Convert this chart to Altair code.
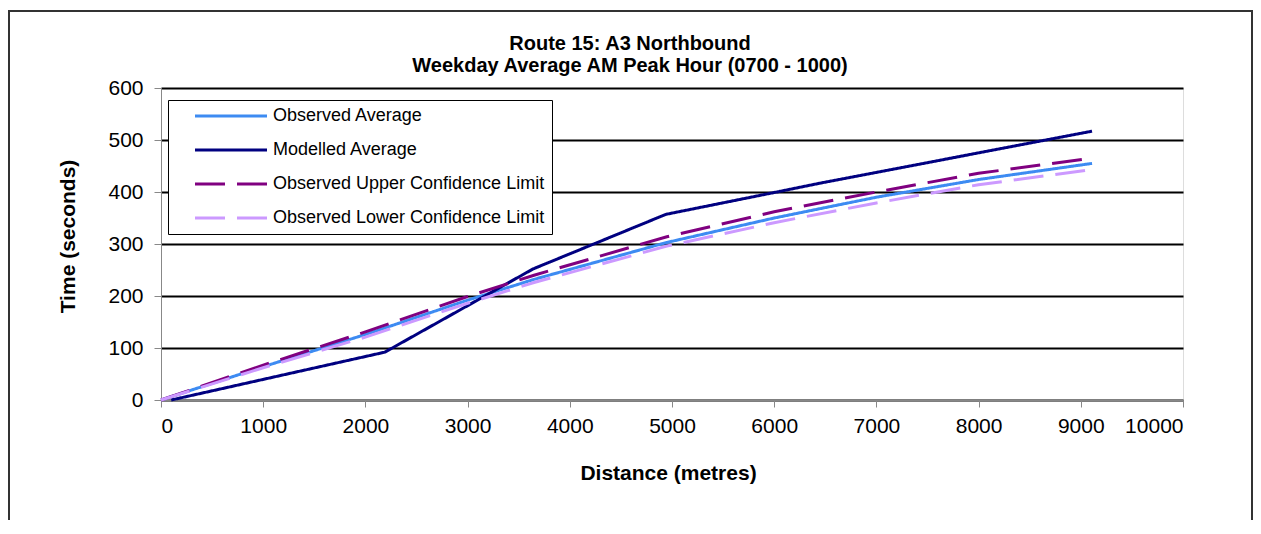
import altair as alt
import pandas as pd

# ---- data ----
obs_dist = [0, 1000, 2000, 3000, 3650, 4950, 6000, 7000, 8000, 9110]
obs_avg = [0, 64, 126, 192, 232, 303, 350, 390, 424, 455]
obs_upper = [0, 67, 131, 199, 240, 314, 362, 400, 436, 465]
obs_lower = [0, 62, 121, 186, 226, 296, 341, 379, 414, 443]

mod_dist = [100, 2190, 3640, 4940, 6000, 6450, 9110]
mod_avg = [0, 92, 252, 357, 399, 417, 517]

series_names = [
    "Observed Average",
    "Modelled Average",
    "Observed Upper Confidence Limit",
    "Observed Lower Confidence Limit",
]
series_colors = ["#3d8bf2", "#000080", "#800080", "#cc99ff"]
series_dash = [[1, 0], [1, 0], [30, 12], [30, 12]]

title_lines = ["Route 15: A3 Northbound", "Weekday Average AM Peak Hour (0700 - 1000)"]
x_title = "Distance (metres)"
y_title = "Time (seconds)"

x_ticks = list(range(0, 10001, 1000))
y_ticks = list(range(0, 601, 100))

rows = []
for d, v in zip(obs_dist, obs_avg):
    rows.append({"dist": d, "time": v, "series": series_names[0]})
for d, v in zip(mod_dist, mod_avg):
    rows.append({"dist": d, "time": v, "series": series_names[1]})
for d, v in zip(obs_dist, obs_upper):
    rows.append({"dist": d, "time": v, "series": series_names[2]})
for d, v in zip(obs_dist, obs_lower):
    rows.append({"dist": d, "time": v, "series": series_names[3]})
df = pd.DataFrame(rows)

FONT = "Liberation Sans"
W, H = 1022, 312

legend_opts = dict(
    title=None,
    orient="none",
    legendX=7,
    legendY=12,
    direction="vertical",
    fillColor="#ffffff",
    strokeColor="#000000",
    padding=7,
    rowPadding=16,
    symbolType="M-7.2,0H7.2",
    symbolSize=100,
    symbolStrokeWidth=3,
    symbolOffset=47,
    labelOffset=33,
    labelFontSize=18,
    labelFont=FONT,
    labelColor="#000000",
    labelLimit=500,
)

lines = alt.Chart(df).mark_line(strokeWidth=3, clip=False).encode(
    x=alt.X(
        "dist:Q",
        scale=alt.Scale(domain=[0, 10000], nice=False, zero=True),
        axis=alt.Axis(
            values=x_ticks,
            format="d",
            grid=False,
            title=x_title,
            titleX=507,
            titleY=73,
            titleAlign="center",
            titleBaseline="middle",
            titleFontSize=21,
            titleFontWeight="bold",
            labelFontSize=21,
            labelPadding=8,
            tickSize=7,
        ),
    ),
    y=alt.Y(
        "time:Q",
        scale=alt.Scale(domain=[0, 600], nice=False),
        axis=alt.Axis(
            values=y_ticks,
            format="d",
            grid=True,
            gridColor="#000000",
            gridWidth=2,
            title=y_title,
            titleX=-93,
            titleY=148,
            titleAngle=-90,
            titleAlign="center",
            titleBaseline="middle",
            titleFontSize=21,
            titleFontWeight="bold",
            labelFontSize=21,
            labelPadding=11,
            tickSize=7,
        ),
    ),
    color=alt.Color(
        "series:N",
        scale=alt.Scale(domain=series_names, range=series_colors),
        legend=alt.Legend(**legend_opts),
    ),
    strokeDash=alt.StrokeDash(
        "series:N",
        scale=alt.Scale(domain=series_names, range=series_dash),
        legend=alt.Legend(**legend_opts),
    ),
    order=alt.Order("dist:Q"),
)

frame = alt.Chart(pd.DataFrame({"a": [0]})).mark_rect(
    fill=None, stroke="#333333", strokeWidth=2, clip=False
).encode(
    x=alt.value(-152),
    x2=alt.value(1091),
    y=alt.value(-77),
    y2=alt.value(470),
)

title1 = alt.Chart(pd.DataFrame({"t": [title_lines[0]]})).mark_text(
    font=FONT, fontSize=20, fontWeight="bold", color="#000000",
    align="center", baseline="alphabetic", clip=False,
).encode(text="t:N", x=alt.value(469), y=alt.value(-38))

title2 = alt.Chart(pd.DataFrame({"t": [title_lines[1]]})).mark_text(
    font=FONT, fontSize=20, fontWeight="bold", color="#000000",
    align="center", baseline="alphabetic", clip=False,
).encode(text="t:N", x=alt.value(469), y=alt.value(-16))

chart = (
    alt.layer(frame, title1, title2, lines)
    .properties(
        width=W,
        height=H,
        autosize=alt.AutoSizeParams(type="none"),
        padding={"left": 153, "top": 80, "right": 70, "bottom": 120},
    )
    .configure_view(stroke="#a0a0a0", strokeWidth=2)
    .configure_axis(
        labelFont=FONT,
        titleFont=FONT,
        labelColor="#000000",
        titleColor="#000000",
        domainColor="#000000",
        domainWidth=2,
        tickColor="#000000",
        tickWidth=2,
    )
    .configure(background="#ffffff")
)

chart.save("out.html", embed_options={"renderer": "svg", "actions": False})
